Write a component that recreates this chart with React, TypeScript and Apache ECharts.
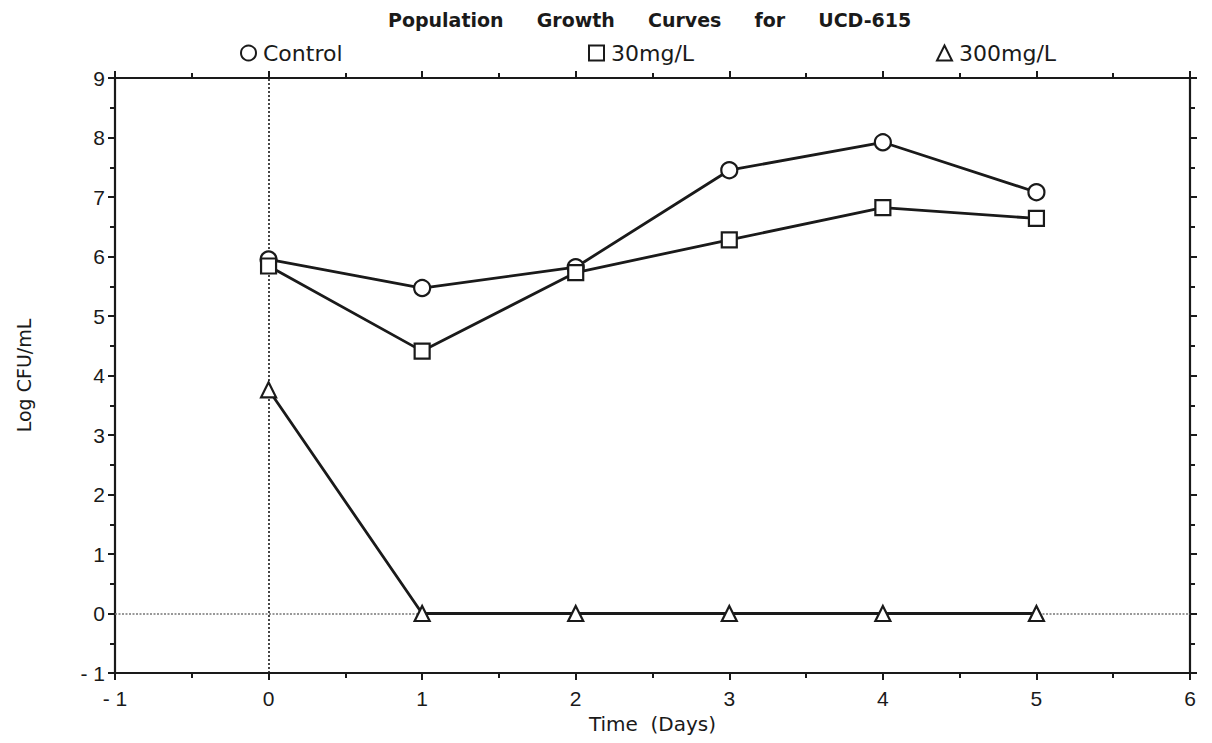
import React, { useEffect, useRef } from "react";
import * as echarts from "echarts";

// Sampling days
const days = [0, 1, 2, 3, 4, 5];
// Log CFU/mL per treatment
const control = [5.95, 5.47, 5.82, 7.45, 7.92, 7.08];
const mg30 = [5.84, 4.41, 5.73, 6.28, 6.82, 6.64];
const mg300 = [3.76, 0, 0, 0, 0, 0];

const seriesNames = ["Control", "30mg/L", "300mg/L"];
const symbols = ["circle", "rect", "triangle"];

const TICK_FONT = "Liberation Sans, Arial, Helvetica, sans-serif";
const TEXT_FONT = "DejaVu Sans, Verdana, sans-serif";
const INK = "#1a1a1a";

const fmt = (v: number) => (v < 0 ? "- " + Math.abs(v) : String(v));

export default function App() {
  const ref = useRef<HTMLDivElement>(null);

  useEffect(() => {
    if (!ref.current) return;
    const chart = echarts.init(ref.current, undefined, { renderer: "svg" });

    const baseAxis = {
      min: -1,
      interval: 1,
      axisLine: { show: true, onZero: false, lineStyle: { color: INK, width: 2.2 } },
      axisTick: { show: true, inside: false, length: 7, lineStyle: { color: INK, width: 2 } },
      minorTick: { show: true, splitNumber: 2, length: 5, lineStyle: { color: INK, width: 2 } },
      splitLine: { show: false },
    };

    const series = [control, mg30, mg300].map((vals, i) => ({
      name: seriesNames[i],
      type: "line",
      data: days.map((d, j) => [d, vals[j]]),
      symbol: symbols[i],
      symbolSize: i === 0 ? 16 : 15,
      showAllSymbol: true,
      z: 3 + i,
      lineStyle: { color: INK, width: 2.8 },
      itemStyle: { color: "#ffffff", borderColor: INK, borderWidth: 2.2 },
      markLine:
        i === 0
          ? {
              silent: true,
              symbol: "none",
              label: { show: false },
              z: 1,
              data: [
                { xAxis: 0, lineStyle: { color: INK, type: [2, 2], width: 1.6 } },
                { yAxis: 0, lineStyle: { color: "#777", type: [2, 1.5], width: 1.6 } },
              ],
            }
          : undefined,
    }));

    const legendBase = (name: string, icon: string, left: number) => ({
      data: [name],
      left,
      top: 42,
      icon,
      itemWidth: 15,
      itemHeight: 15,
      itemGap: 4,
      padding: 0,
      selectedMode: false,
      textStyle: { fontFamily: TEXT_FONT, fontSize: 22, color: INK, padding: [0, 0, 0, 2] },
    });

    chart.setOption({
      animation: false,
      backgroundColor: "#ffffff",
      title: {
        text: "Population     Growth     Curves     for     UCD-615",
        left: 383,
        top: 5,
        textStyle: { fontFamily: TEXT_FONT, fontSize: 19, fontWeight: "bold", color: INK },
      },
      legend: [
        legendBase(seriesNames[0], "circle", 240),
        legendBase(seriesNames[1], "rect", 588),
        legendBase(seriesNames[2], "triangle", 936),
      ],
      grid: { left: 115, right: 22, top: 78, bottom: 70 },
      xAxis: [
        {
          ...baseAxis,
          type: "value",
          max: 6,
          position: "bottom",
          name: "Time  (Days)",
          nameLocation: "middle",
          nameGap: 40,
          nameTextStyle: { fontFamily: TEXT_FONT, fontSize: 20, color: INK },
          axisLabel: { formatter: fmt, fontFamily: TICK_FONT, fontSize: 21, color: INK, margin: 15 },
        },
        {
          ...baseAxis,
          type: "value",
          max: 6,
          position: "top",
          axisLabel: { show: false },
        },
      ],
      yAxis: [
        {
          ...baseAxis,
          type: "value",
          max: 9,
          position: "left",
          name: "Log CFU/mL",
          nameLocation: "middle",
          nameGap: 82,
          nameTextStyle: { fontFamily: TEXT_FONT, fontSize: 19, color: INK },
          axisLabel: { formatter: fmt, fontFamily: TICK_FONT, fontSize: 21, color: INK, margin: 10 },
        },
        {
          ...baseAxis,
          type: "value",
          max: 9,
          position: "right",
          axisLabel: { show: false },
        },
      ],
      series,
    });

    return () => chart.dispose();
  }, []);

  return (
    <div
      ref={ref}
      style={{ position: "fixed", left: 0, top: 0, width: 1212, height: 743, background: "#fff" }}
    />
  );
}
